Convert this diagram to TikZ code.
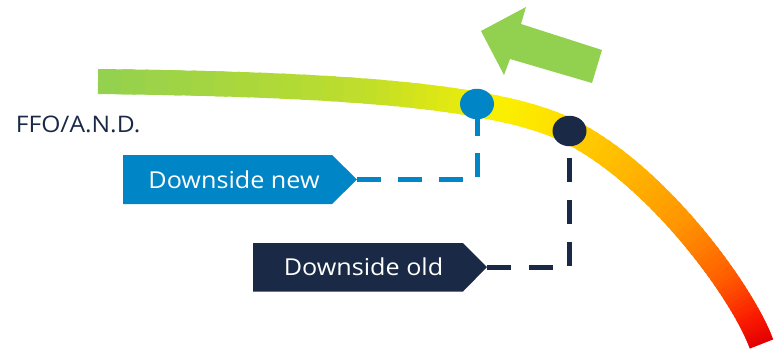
\documentclass[tikz,border=0pt]{standalone}
\usepackage{fontspec}
\setmainfont[FakeStretch=1.08]{Open Sans}
\usetikzlibrary{shapes.geometric}
\definecolor{cblue}{RGB}{0,134,199}
\definecolor{cnavy}{RGB}{26,42,70}
\definecolor{cgreen}{RGB}{146,208,80}
\definecolor{k0}{RGB}{146,208,80}
\definecolor{k1}{RGB}{192,222,42}
\definecolor{k2}{RGB}{250,240,0}
\definecolor{k3}{RGB}{255,224,0}
\definecolor{k4}{RGB}{255,190,0}
\definecolor{k5}{RGB}{255,150,0}
\definecolor{k6}{RGB}{255,95,0}
\definecolor{k7}{RGB}{250,25,0}
\definecolor{k8}{RGB}{225,0,0}
\tikzset{
  bdash/.style={draw=cblue, line width=5pt, dash pattern=on 24pt off 17pt},
  ddash/.style={draw=cnavy, line width=5pt, dash pattern=on 24pt off 18pt},
  dotnode/.style={ellipse, minimum width=34pt, minimum height=30.5pt, inner sep=0pt},
  lbltext/.style={text=white, font=\fontsize{23.3}{28}\selectfont, inner sep=0pt, anchor=base},
}
\begin{document}
\begin{tikzpicture}[x=1pt,y=-1pt,
  declare function={
    bz(\t,\a,\b,\c,\d)=(1-\t)*(1-\t)*(1-\t)*\a+3*(1-\t)*(1-\t)*\t*\b+3*(1-\t)*\t*\t*\c+\t*\t*\t*\d;
    ta(\s)=min(\s/0.64,1);
    tb(\s)=max((\s-0.64)/0.36,0);
    cx(\s)=ifthenelse(\s<0.64, bz(ta(\s),98,300,489,569), bz(tb(\s),569,659,743.5,761.5));
    cy(\s)=ifthenelse(\s<0.64, bz(ta(\s),81.5,84,91,131), bz(tb(\s),131,176,294,344));
  }]
\useasboundingbox (0,0) rectangle (774,349);
% gradient band
\foreach \sa/\sb/\ca/\cb in {0/0.30/k0/k1, 0.30/0.50/k1/k2, 0.50/0.60/k2/k3, 0.60/0.70/k3/k4, 0.70/0.80/k4/k5, 0.80/0.88/k5/k6, 0.88/0.95/k6/k7, 0.95/1/k7/k8}{
  \foreach \j in {0,...,11}{
    \pgfmathsetmacro\sone{\sa+(\sb-\sa)*\j/12}
    \pgfmathsetmacro\stwo{min(\sa+(\sb-\sa)*(\j+1.6)/12,1)}
    \pgfmathsetmacro\pct{(\j+0.5)/12*100}
    \pgfmathsetmacro\xa{cx(\sone)}
    \pgfmathsetmacro\ya{cy(\sone)}
    \pgfmathsetmacro\xb{cx(\stwo)}
    \pgfmathsetmacro\yb{cy(\stwo)}
    \colorlet{segc}{\cb!\pct!\ca}
    \draw[line width=25pt, segc] (\xa,\ya) -- (\xb,\yb);
  }
}
% green arrow
\fill[cgreen] (481,31) -- (526,7) -- (521,24) -- (602,50) -- (592,83) -- (510,59) -- (504,75) -- cycle;
% labels
\fill[cblue] (123,155) -- (332,155) -- (357,179.5) -- (332,204) -- (123,204) -- cycle;
\coordinate (newtip) at (357,179.5);
\node[lbltext] (newlbl) at (234,188.3) {Downside new};
\fill[cnavy] (253,243) -- (463,243) -- (487,267) -- (463,291.5) -- (253,291.5) -- cycle;
\coordinate (oldtip) at (487,267);
\node[lbltext] (oldlbl) at (363.5,275) {Downside old};
% dots
\node[dotnode, fill=cblue] (bdot) at (477,104) {};
\node[dotnode, fill=cnavy] (ddot) at (569.5,131) {};
% connectors
\draw[bdash] (newtip) -| (bdot);
\draw[ddash] (oldtip) -| (ddot);
% side label
\node[text=cnavy, font=\fontsize{22.8}{27}\selectfont, inner sep=0pt, anchor=base west] (ffo) at (15.7,132) {FFO/A.N.D.};
\end{tikzpicture}
\end{document}
